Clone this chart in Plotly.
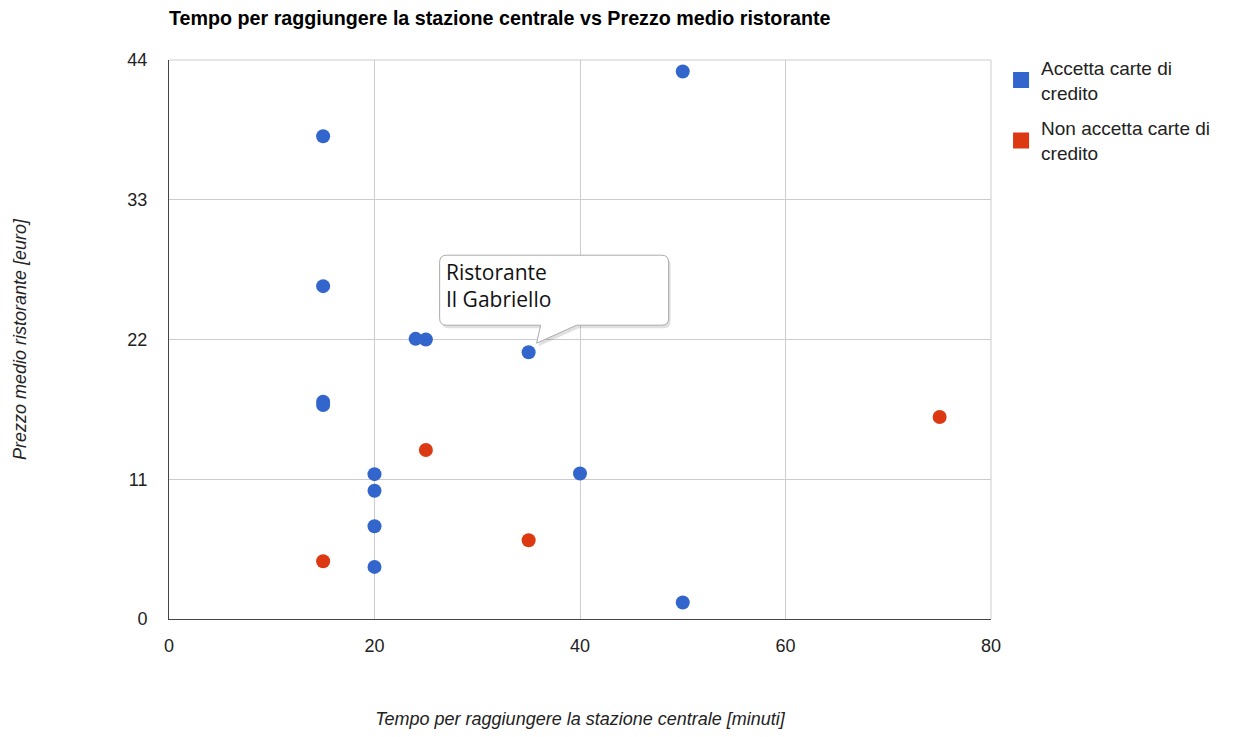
import plotly.graph_objects as go

# Data
accetta_x = [50, 15, 15, 24, 25, 35, 15, 15, 20, 20, 20, 20, 40, 50]
accetta_y = [43.1, 38.0, 26.2, 22.05, 22.0, 21.0, 17.1, 16.85, 11.4, 10.1, 7.3, 4.1, 11.45, 1.3]
non_accetta_x = [15, 25, 35, 75]
non_accetta_y = [4.55, 13.3, 6.2, 15.9]
series_names = ["Accetta carte di<br>credito", "Non accetta carte di<br>credito"]
colors = ["#3366cc", "#dc3912"]
x_ticks = [0, 20, 40, 60, 80]
y_ticks = [0, 11, 22, 33, 44]
callout_point = (35, 21.0)
callout_text = "Ristorante<br>Il Gabriello"

FONT = "Liberation Sans, Arial, sans-serif"
W, H = 1218, 721  # page body has an 8px margin

fig = go.Figure()
for i, (xs, ys, name, c) in enumerate([(accetta_x, accetta_y, series_names[0], colors[0]),
                                       (non_accetta_x, non_accetta_y, series_names[1], colors[1])]):
    fig.add_trace(go.Scatter(x=xs, y=ys, mode="markers", showlegend=False,
                             marker=dict(color=c, size=14, line=dict(width=0)),
                             hoverinfo="x+y"))
    fig.add_trace(go.Scatter(x=[None], y=[None], mode="markers", name=name,
                             legendgroup=f"g{i}",
                             marker=dict(color=c, size=18, symbol="square", line=dict(width=0))))

# speech bubble callout (pixel offsets relative to the data point)
def bubble(dx=0, dy=0):
    L, R, T, B, r = -89 + dx, 140 + dx, 97 + dy, 27 + dy, 7
    return (f"M{L+r},{T} L{R-r},{T} Q{R},{T} {R},{T-r} L{R},{B+r} Q{R},{B} {R-r},{B} "
            f"L{48+dx},{B} L{8+dx},{9+dy} L{12+dx},{B} L{L+r},{B} Q{L},{B} {L},{B+r} "
            f"L{L},{T-r} Q{L},{T} {L+r},{T} Z")

fig.add_shape(type="path", xref="x", yref="y", xsizemode="pixel", ysizemode="pixel",
              xanchor=callout_point[0], yanchor=callout_point[1], path=bubble(2, -3),
              fillcolor="rgba(0,0,0,0.12)", line=dict(width=0), layer="above")
fig.add_shape(type="path", xref="x", yref="y", xsizemode="pixel", ysizemode="pixel",
              xanchor=callout_point[0], yanchor=callout_point[1], path=bubble(),
              fillcolor="white", line=dict(color="#aaaaaa", width=1), layer="above")
fig.add_annotation(x=callout_point[0], y=callout_point[1], xref="x", yref="y",
                   text=callout_text, showarrow=False, xanchor="left", yanchor="top",
                   align="left", xshift=-85, yshift=96,
                   font=dict(family="Open Sans, sans-serif", size=21, color="#111111"))

# light frame lines at the top and right edges (grid-like)
fig.add_shape(type="line", xref="paper", yref="paper", x0=0, x1=1, y0=1, y1=1,
              line=dict(color="#cccccc", width=1), layer="below")
fig.add_shape(type="line", xref="paper", yref="paper", x0=1, x1=1, y0=0, y1=1,
              line=dict(color="#cccccc", width=1), layer="below")

fig.update_layout(
    width=W, height=H,
    margin=dict(l=161, r=234, t=52, b=110),
    paper_bgcolor="white", plot_bgcolor="white",
    title=dict(text="<b>Tempo per raggiungere la stazione centrale vs Prezzo medio ristorante</b>",
               x=161/W, xanchor="left", y=1-10/H, yanchor="middle",
               font=dict(family=FONT, size=19.7, color="#000000")),
    font=dict(family=FONT, size=18, color="#222222"),
    legend=dict(x=1.011, y=1.02, xanchor="left", yanchor="top",
                font=dict(size=19, color="#222222"), itemsizing="trace",
                tracegroupgap=8, bgcolor="rgba(0,0,0,0)"),
    xaxis=dict(range=[0, 80], tickvals=x_ticks, showgrid=True, gridcolor="#cccccc",
               showline=True, linecolor="#444444", linewidth=1, zeroline=False,
               ticks="", ticklabelstandoff=10, automargin=False,
               tickfont=dict(size=18, color="#222222"),
               title=dict(text="<i>Tempo per raggiungere la stazione centrale [minuti]</i>",
                          standoff=60, font=dict(size=18, color="#222222"))),
    yaxis=dict(range=[0, 44], tickvals=y_ticks, showgrid=True, gridcolor="#cccccc",
               showline=True, linecolor="#444444", linewidth=1, zeroline=False,
               ticks="", ticklabelstandoff=17, automargin=False,
               tickfont=dict(size=18, color="#222222"),
               title=dict(text="<i>Prezzo medio ristorante [euro]</i>",
                          standoff=96, font=dict(size=18, color="#222222"))),
)

fig.write_html("out.html")
